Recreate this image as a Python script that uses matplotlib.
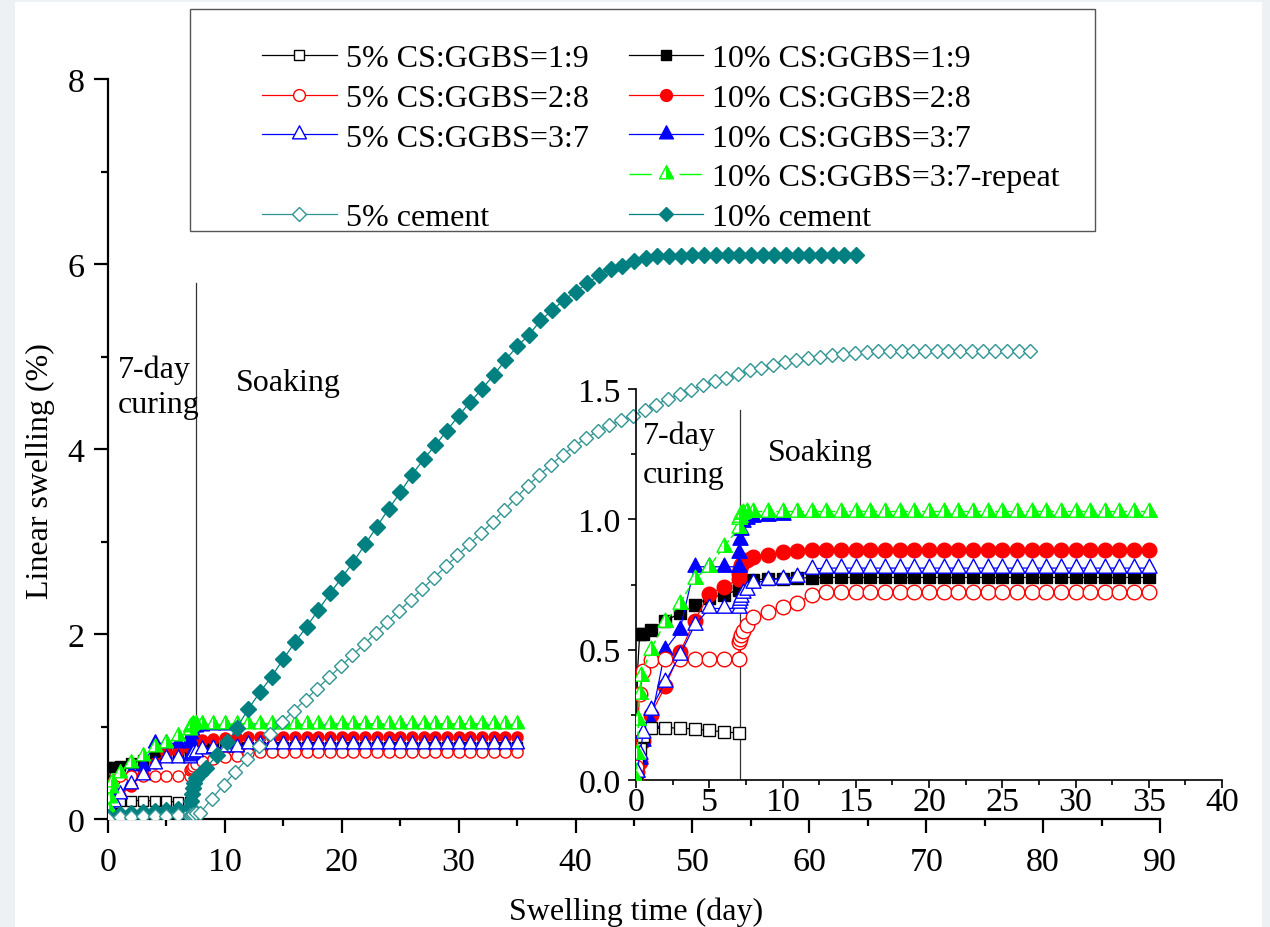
import matplotlib
matplotlib.use('Agg')
import matplotlib.pyplot as plt
from matplotlib.path import Path
from matplotlib.lines import Line2D
from matplotlib.patches import Rectangle
from matplotlib.ticker import MultipleLocator

plt.rcParams['font.family'] = ['Liberation Serif', 'DejaVu Serif']

# ---------------- data ----------------
CURE_DAYS = [0, 0.1, 0.25, 0.5, 1, 2, 3, 4, 5, 6, 7]
SOAK_DAYS = [7.05, 7.1, 7.2, 7.3, 7.55, 8, 9, 10, 11, 12, 13, 14, 15, 16, 17, 18,
             19, 20, 21, 22, 23, 24, 25, 26, 27, 28, 29, 30, 31, 32, 33, 34, 35]
GREEN_CURE_DAYS = [0, 0.1, 0.17, 0.26, 0.37, 1, 2, 3, 4, 5, 6, 7]

cs5_19_v = [0.0, 0.06, 0.12, 0.17, 0.20, 0.20, 0.20, 0.195, 0.19, 0.185, 0.18]

cs5_28_cure = [0.05, 0.2, 0.33, 0.42, 0.46, 0.465, 0.465, 0.465, 0.465, 0.465, 0.465]
cs5_28_soak = [0.53, 0.54, 0.555, 0.57, 0.595, 0.625, 0.645, 0.665, 0.68, 0.71,
               0.72, 0.72, 0.722, 0.722, 0.723, 0.723, 0.723, 0.723, 0.723, 0.723,
               0.723, 0.723, 0.723, 0.723, 0.723, 0.723, 0.723, 0.723, 0.723, 0.723,
               0.723, 0.723, 0.723]

cs5_37_cure = [0.0, 0.03, 0.1, 0.18, 0.27, 0.376, 0.48, 0.593, 0.658, 0.658, 0.658]
cs5_37_soak = [0.678, 0.69, 0.703, 0.716, 0.729, 0.754, 0.767, 0.773, 0.78, 0.81,
               0.813, 0.813, 0.813, 0.813, 0.813, 0.813, 0.813, 0.813, 0.813, 0.813,
               0.813, 0.813, 0.813, 0.813, 0.813, 0.813, 0.813, 0.813, 0.813, 0.813,
               0.813, 0.813, 0.813]

cs10_19_cure = [0.02, 0.41, 0.56, 0.56, 0.575, 0.61, 0.64, 0.67, 0.70, 0.71, 0.73]
cs10_19_soak = [0.74, 0.745, 0.75, 0.755, 0.76, 0.767, 0.772, 0.773, 0.775, 0.776,
                0.777, 0.777, 0.777, 0.777, 0.777, 0.777, 0.777, 0.777, 0.777, 0.777,
                0.777, 0.777, 0.777, 0.777, 0.777, 0.777, 0.777, 0.777, 0.777, 0.777,
                0.777, 0.777, 0.777]

cs10_28_cure = [0.0, 0.03, 0.07, 0.15, 0.25, 0.36, 0.49, 0.61, 0.715, 0.74, 0.77]
cs10_28_soak = [0.79, 0.81, 0.825, 0.835, 0.845, 0.855, 0.865, 0.875, 0.88, 0.882,
                0.883, 0.883, 0.883, 0.883, 0.883, 0.883, 0.883, 0.883, 0.883, 0.883,
                0.883, 0.883, 0.883, 0.883, 0.883, 0.883, 0.883, 0.883, 0.883, 0.883,
                0.883, 0.883, 0.883]

cs10_37_cure = [0.0, 0.03, 0.08, 0.15, 0.22, 0.5, 0.575, 0.818, 0.818, 0.818, 0.818]
cs10_37_soak = [0.87, 0.92, 0.96, 0.99, 1.0, 1.01, 1.012, 1.015, 1.015, 1.015,
                1.015, 1.015, 1.015, 1.015, 1.015, 1.015, 1.015, 1.015, 1.015, 1.015,
                1.015, 1.015, 1.015, 1.015, 1.015, 1.015, 1.015, 1.015, 1.015, 1.015,
                1.015, 1.015, 1.015]

rep_cure = [0.0, 0.1, 0.23, 0.33, 0.40, 0.5, 0.606, 0.677, 0.773, 0.818, 0.895, 0.965]
rep_soak = [1.0, 1.01, 1.02, 1.025, 1.03, 1.03, 1.03, 1.03, 1.03, 1.03,
            1.03, 1.03, 1.03, 1.03, 1.03, 1.03, 1.03, 1.03, 1.03, 1.03,
            1.03, 1.03, 1.03, 1.03, 1.03, 1.03, 1.03, 1.03, 1.03, 1.03,
            1.03, 1.03, 1.03]

cem10_d = [0, 1, 2, 3, 4, 5, 6, 7, 7.1, 7.2, 7.3, 7.4, 7.5, 7.9, 8.4, 9.3, 10.2, 11.0,
           12, 13, 14, 15, 16, 17, 18, 19, 20, 21, 22, 23, 24, 25, 26, 27, 28, 29, 30,
           31, 32, 33, 34, 35, 36, 37, 38, 39, 40, 41, 42, 43, 44, 45, 46, 47, 48, 49,
           50, 51, 52, 53, 54, 55, 56, 57, 58, 59, 60, 61, 62, 63, 64]
cem10_v = [0.02, 0.05, 0.07, 0.08, 0.09, 0.1, 0.11, 0.13, 0.2, 0.27, 0.33, 0.39, 0.44,
           0.49, 0.55, 0.69, 0.83, 0.98,
           1.19, 1.37, 1.54, 1.73, 1.91, 2.08, 2.26, 2.44, 2.61, 2.78, 2.97, 3.16, 3.35,
           3.53, 3.72, 3.89, 4.04, 4.20, 4.36, 4.51, 4.65, 4.80, 4.96, 5.11, 5.23, 5.39,
           5.50, 5.61, 5.70, 5.79, 5.88, 5.95, 5.98, 6.03, 6.07, 6.09, 6.09, 6.09, 6.10,
           6.10, 6.10, 6.10, 6.10, 6.10, 6.10, 6.10, 6.10, 6.10, 6.10, 6.10, 6.10, 6.10,
           6.10]

cem5_d = [0, 1, 2, 3, 4, 5, 6, 7, 7.05, 7.1, 7.2, 7.3, 7.5,
          7.9, 8.9, 9.9, 10.9, 11.9, 12.9, 13.9, 14.9, 15.9, 16.9, 17.9, 18.9, 19.9,
          20.9, 21.9, 22.9, 23.9, 24.9, 25.9, 26.9, 27.9, 28.9, 29.9, 30.9, 31.9, 32.9,
          33.9, 34.9, 35.9, 36.9, 37.9, 38.9, 39.9, 40.9, 41.9, 42.9, 43.9, 44.9, 45.9,
          46.9, 47.9, 48.9, 49.9, 50.9, 51.9, 52.9, 53.9, 54.9, 55.9, 56.9, 57.9, 58.9,
          59.9, 60.9, 61.9, 62.9, 63.9, 64.9, 65.9, 66.9, 67.9, 68.9, 69.9, 70.9, 71.9,
          72.9, 73.9, 74.9, 75.9, 76.9, 77.9, 78.9]
cem5_v = [0.0, 0.02, 0.02, 0.03, 0.03, 0.03, 0.04, 0.04, 0.02, 0.03, 0.04, 0.05, 0.06,
          0.07, 0.22, 0.37, 0.51, 0.65, 0.79, 0.92, 1.05, 1.17, 1.29, 1.41, 1.53, 1.65,
          1.77, 1.89, 2.01, 2.13, 2.25, 2.37, 2.49, 2.61, 2.73, 2.85, 2.97, 3.09, 3.21,
          3.34, 3.47, 3.60, 3.72, 3.83, 3.94, 4.03, 4.12, 4.19, 4.26, 4.31, 4.36, 4.42,
          4.48, 4.54, 4.59, 4.64, 4.69, 4.73, 4.77, 4.81, 4.85, 4.88, 4.91, 4.94, 4.96,
          4.98, 5.00, 5.02, 5.03, 5.04, 5.05, 5.06, 5.06, 5.06, 5.06, 5.06, 5.06, 5.06,
          5.06, 5.06, 5.06, 5.06, 5.06, 5.06, 5.06]

labels = ['5% CS:GGBS=1:9', '5% CS:GGBS=2:8', '5% CS:GGBS=3:7', '5% cement',
          '10% CS:GGBS=1:9', '10% CS:GGBS=2:8', '10% CS:GGBS=3:7',
          '10% CS:GGBS=3:7-repeat', '10% cement']

# ---------------- styling ----------------
W, H = 1270, 928
FS = 23
TFS = 24.5
RED, BLUE, GREEN, TEAL = '#ff0000', '#0000ff', '#00ff00', '#008080'

def fx(px):
    return px / W

def fy(py):
    return 1 - py / H

# triangle markers centred on their centroid, and the right half of it
TRI = Path([(0, 1), (-0.8, -0.5), (0.8, -0.5), (0, 0)], closed=True)
TRI_R = Path([(0, 1), (0, -0.5), (0.8, -0.5), (0, 0)], closed=True)

fig = plt.figure(figsize=(W / 100, H / 100), dpi=100)
fig.patch.set_facecolor('#eef1f4')
fig.patches.append(Rectangle((fx(15), 0), fx(1262) - fx(15), fy(3), transform=fig.transFigure,
                             facecolor='white', edgecolor='none', zorder=-10))

ax = fig.add_axes([fx(108), fy(820), fx(1160) - fx(108), fy(80) - fy(820)])
axi = fig.add_axes([fx(636), fy(781), fx(1222) - fx(636), fy(390) - fy(781)])

SIZES = {
    ax: dict(s=7.5, o=8.0, t=12.5, Do=7.0, Df=8.5),
    axi: dict(s=9.0, o=10.5, t=13.5, Do=7.0, Df=8.5),
}

def series(a, d, v, color, marker, ms, face, mew=1.0, lw=0.9, zorder=3, **kw):
    a.plot(d, v, color=color, lw=lw, marker=marker, ms=ms, mfc=face, mec=color,
           mew=mew, zorder=zorder, **kw)

for a in (ax, axi):
    sz = SIZES[a]
    cd = CURE_DAYS
    alld = CURE_DAYS + SOAK_DAYS
    series(a, alld, cs10_19_cure + cs10_19_soak, 'black', 's', sz['s'], 'black', zorder=3)
    series(a, alld, cs10_28_cure + cs10_28_soak, RED, 'o', sz['o'], RED, zorder=3.1)
    series(a, alld, cs10_37_cure + cs10_37_soak, BLUE, TRI, sz['t'], BLUE, zorder=3.2,
           markevery=list(range(0, 19)))
    series(a, cd, cs5_19_v, 'black', 's', sz['s'], 'white', zorder=3.3)
    series(a, alld, cs5_28_cure + cs5_28_soak, RED, 'o', sz['o'], 'white', zorder=3.4)
    series(a, alld, cs5_37_cure + cs5_37_soak, BLUE, TRI, sz['t'], 'white', zorder=3.5)
    gd = GREEN_CURE_DAYS + SOAK_DAYS
    gv = rep_cure + rep_soak
    a.plot(gd, gv, color=GREEN, lw=1.0, dashes=(5, 2.5), marker=TRI, ms=sz['t'],
           mfc='white', mec=GREEN, mew=1.0, zorder=3.6)
    a.plot(gd, gv, ls='none', marker=TRI_R, ms=sz['t'], mfc=GREEN, mec=GREEN, mew=0.6,
           zorder=3.7)
    if a is ax:
        series(a, cem10_d, cem10_v, TEAL, 'D', sz['Df'], TEAL, zorder=3.8)
        series(a, cem5_d, cem5_v, '#2f9494', 'D', sz['Do'], 'white', mew=1.0, zorder=3.9)

# ---------------- main axes ----------------
ax.set_facecolor('none')
ax.set_xlim(0, 90)
ax.set_ylim(0, 8)
for s in ('top', 'right'):
    ax.spines[s].set_visible(False)
for s in ('left', 'bottom'):
    ax.spines[s].set_linewidth(1.6)
ax.xaxis.set_major_locator(MultipleLocator(10))
ax.xaxis.set_minor_locator(MultipleLocator(5))
ax.yaxis.set_major_locator(MultipleLocator(2))
ax.yaxis.set_minor_locator(MultipleLocator(1))
ax.tick_params(which='major', direction='out', length=10, width=1.6, labelsize=TFS, pad=10)
ax.tick_params(which='minor', direction='out', length=5, width=1.6)
ax.tick_params(axis='y', which='major', pad=7)
ax.plot([7.5, 7.5], [0, 5.8], color='#333333', lw=0.9, zorder=2)

# ---------------- inset axes ----------------
axi.set_facecolor('none')
axi.set_xlim(0, 40)
axi.set_ylim(0, 1.5)
for s in ('top', 'right'):
    axi.spines[s].set_visible(False)
for s in ('left', 'bottom'):
    axi.spines[s].set_linewidth(1.2)
axi.xaxis.set_major_locator(MultipleLocator(5))
axi.xaxis.set_minor_locator(MultipleLocator(2.5))
axi.yaxis.set_major_locator(MultipleLocator(0.5))
axi.yaxis.set_minor_locator(MultipleLocator(0.25))
axi.yaxis.set_major_formatter(plt.FormatStrFormatter('%.1f'))
axi.tick_params(which='major', direction='out', length=6, width=1.2, labelsize=TFS, pad=-1)
axi.tick_params(which='minor', direction='out', length=3.5, width=1.2)
axi.tick_params(axis='y', which='major', pad=5)
axi.plot([7.1, 7.1], [0, 1.42], color='#333333', lw=0.9, zorder=2)

# ---------------- texts ----------------
fig.text(fx(40), fy(471), 'Linear swelling (%)', rotation=90, ha='center', va='center', fontsize=FS)
fig.text(fx(636), fy(912), 'Swelling time (day)', ha='center', va='center', fontsize=FS)
fig.text(fx(118), fy(378), '7-day', ha='left', va='baseline', fontsize=FS)
fig.text(fx(118), fy(413), 'curing', ha='left', va='baseline', fontsize=FS)
fig.text(fx(236), fy(391), 'Soaking', ha='left', va='baseline', fontsize=FS)
fig.text(fx(643), fy(444), '7-day', ha='left', va='baseline', fontsize=FS)
fig.text(fx(643), fy(483), 'curing', ha='left', va='baseline', fontsize=FS)
fig.text(fx(768), fy(461), 'Soaking', ha='left', va='baseline', fontsize=FS)

# ---------------- legend ----------------
def h(color, marker, ms, face, **kw):
    return Line2D([], [], color=color, lw=0.9, marker=marker, ms=ms, mfc=face, mec=color, mew=1.0, **kw)

h_rep = (Line2D([], [], color=GREEN, lw=1.0, dashes=(16, 20), marker=TRI, ms=12.5,
                mfc='white', mec=GREEN, mew=1.0),
         Line2D([], [], ls='none', marker=TRI_R, ms=12.5, mfc=GREEN, mec=GREEN, mew=0.6))
blank = Line2D([], [], ls='none')
handles = [h('black', 's', 7.5, 'white'), h(RED, 'o', 8.5, 'white'), h(BLUE, TRI, 12.5, 'white'),
           blank, h('#2f9494', 'D', 7.0, 'white'),
           h('black', 's', 7.5, 'black'), h(RED, 'o', 8.5, RED), h(BLUE, TRI, 12.5, BLUE),
           h_rep, h(TEAL, 'D', 7.0, TEAL)]
leg_labels = [labels[0], labels[1], labels[2], ' ', labels[3],
              labels[4], labels[5], labels[6], labels[7], labels[8]]
fig.legend(handles, leg_labels, ncol=2, loc='upper left', bbox_to_anchor=(fx(262), fy(45)),
           frameon=False, fontsize=FS, handlelength=2.34, handletextpad=0.28,
           columnspacing=1.25, labelspacing=0.32, borderpad=0, borderaxespad=0,
           numpoints=1)
fig.patches.append(Rectangle((fx(190), fy(232)), fx(1094.5) - fx(190), fy(9.5) - fy(232),
                             transform=fig.transFigure, facecolor='none',
                             edgecolor='#555555', lw=1.0, zorder=5))

fig.savefig('out.png', dpi=100, facecolor=fig.get_facecolor())
